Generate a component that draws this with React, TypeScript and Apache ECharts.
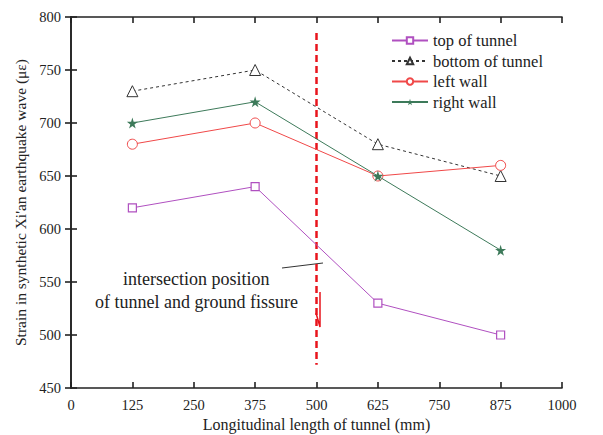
import React, { useEffect, useRef } from "react";
import * as echarts from "echarts";

// Measurement positions along the tunnel (mm)
const positions = [125, 375, 625, 875];
// Strain values (με) at each position
const topOfTunnel = [620, 640, 530, 500];
const bottomOfTunnel = [730, 750, 680, 650];
const leftWall = [680, 700, 650, 660];
const rightWall = [700, 720, 650, 580];
// Ground fissure crossing (mm) and the extent of its marker line (με)
const fissureX = 500;
const fissureSpan = [785, 472];

const FONT = "Liberation Serif";
const STAR = "path://M50,0 L61,35 L98,35 L68,57 L79,91 L50,70 L21,91 L32,57 L2,35 L39,35 Z";

const pair = (ys: number[]) => positions.map((x, i) => [x, ys[i]]);

export default function App() {
  const ref = useRef<HTMLDivElement>(null);
  useEffect(() => {
    const chart = echarts.init(ref.current!, undefined, { renderer: "svg" });
    const axisLine = { show: true, lineStyle: { color: "#222", width: 1.6 } };
    const tick = { show: true, inside: true, length: 6, lineStyle: { color: "#222", width: 1.6 } };
    const label = { fontFamily: FONT, fontSize: 14.5, color: "#222", formatter: (v: number) => String(v) };
    chart.setOption({
      animation: false,
      backgroundColor: "#fff",
      textStyle: { fontFamily: FONT },
      grid: { left: 71, right: 41, top: 17, bottom: 47, containLabel: false, outerBoundsMode: "none" },
      legend: {
        orient: "vertical",
        left: 386,
        top: 27,
        itemWidth: 36,
        itemHeight: 8,
        itemGap: 3.5,
        data: ["top of tunnel", "bottom of tunnel", "left wall", "right wall"],
        textStyle: { fontFamily: FONT, fontSize: 16.5, color: "#222" },
      },
      xAxis: [
        {
          type: "value",
          min: 0,
          max: 1000,
          interval: 125,
          name: "Longitudinal length of tunnel (mm)",
          nameLocation: "middle",
          nameGap: 27,
          nameTextStyle: { fontFamily: FONT, fontSize: 16, color: "#222" },
          axisLine,
          axisTick: tick,
          axisLabel: { ...label, margin: 9 },
          splitLine: { show: false },
        },
        {
          type: "value",
          position: "top",
          min: 0,
          max: 1000,
          interval: 125,
          axisLine,
          axisTick: tick,
          axisLabel: { show: false },
          splitLine: { show: false },
        },
      ],
      yAxis: [
        {
          type: "value",
          min: 450,
          max: 800,
          interval: 50,
          name: "Strain in synthetic Xi'an earthquake wave (με)",
          nameLocation: "middle",
          nameGap: 41,
          nameTextStyle: { fontFamily: FONT, fontSize: 15.5, color: "#222" },
          axisLine,
          axisTick: tick,
          axisLabel: { ...label, margin: 10 },
          splitLine: { show: false },
        },
        {
          type: "value",
          position: "right",
          min: 450,
          max: 800,
          interval: 50,
          axisLine,
          axisTick: tick,
          axisLabel: { show: false },
          splitLine: { show: false },
        },
      ],
      series: [
        {
          name: "top of tunnel",
          type: "line",
          data: pair(topOfTunnel),
          symbol: "rect",
          symbolSize: 8,
          lineStyle: { color: "#b050c0", width: 1 },
          itemStyle: { color: "#fff", borderColor: "#b050c0", borderWidth: 1.2 },
          color: "#b050c0",
          z: 3,
        },
        {
          name: "bottom of tunnel",
          type: "line",
          data: pair(bottomOfTunnel),
          symbol: "triangle",
          symbolSize: 11,
          lineStyle: { color: "#333", width: 1, type: [3, 3] },
          itemStyle: { color: "#fff", borderColor: "#333", borderWidth: 1 },
          color: "#333",
          z: 3,
        },
        {
          name: "left wall",
          type: "line",
          data: pair(leftWall),
          symbol: "circle",
          symbolSize: 10,
          lineStyle: { color: "#f04848", width: 1 },
          itemStyle: { color: "#fff", borderColor: "#f04848", borderWidth: 1 },
          color: "#f04848",
          z: 3,
        },
        {
          name: "right wall",
          type: "line",
          data: pair(rightWall),
          symbol: STAR,
          symbolSize: 11,
          lineStyle: { color: "#3d7a5a", width: 1 },
          itemStyle: { color: "#3d7a5a" },
          color: "#3d7a5a",
          z: 4,
        },
        {
          name: "fissure",
          type: "line",
          data: fissureSpan.map((y) => [fissureX, y]),
          symbol: "none",
          lineStyle: { color: "#e8141c", width: 2.5, type: [7, 4] },
          z: 2,
          silent: true,
        },
      ],
      graphic: [
        {
          type: "text",
          left: 123,
          top: 270,
          style: { text: "intersection position", fontFamily: FONT, fontSize: 18, fill: "#222" },
        },
        {
          type: "text",
          left: 95,
          top: 293,
          style: { text: "of tunnel and ground fissure", fontFamily: FONT, fontSize: 18, fill: "#222" },
        },
        {
          type: "line",
          shape: { x1: 282, y1: 268, x2: 323, y2: 263 },
          style: { stroke: "#333", lineWidth: 1 },
        },
        {
          type: "polyline",
          shape: { points: [[320, 292], [320, 327], [316, 313]] },
          style: { stroke: "#e8141c", lineWidth: 1.5, fill: "none" },
        },
      ],
    });
    return () => chart.dispose();
  }, []);
  return <div ref={ref} style={{ width: 603, height: 435, marginLeft: -8, marginTop: -8 }} />;
}
